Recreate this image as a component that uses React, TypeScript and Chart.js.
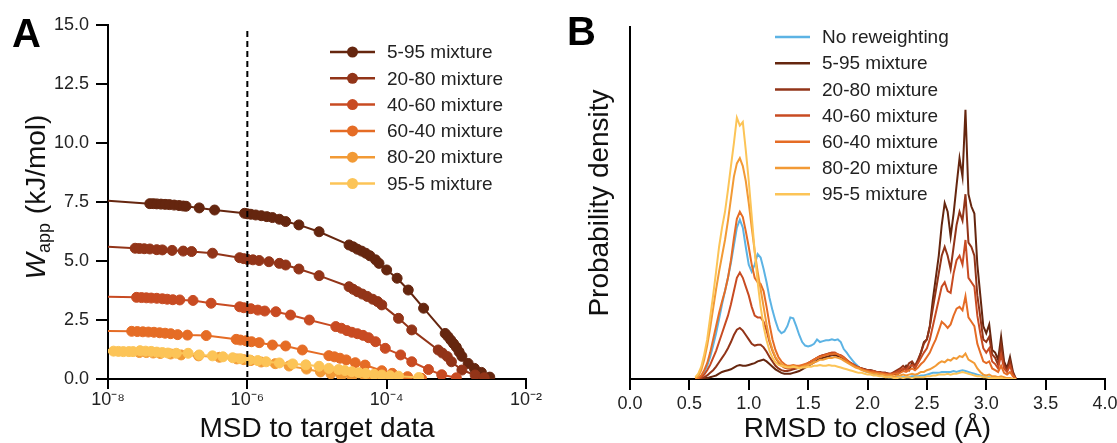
import React, { useEffect, useRef } from 'react';
import { Chart, registerables } from 'chart.js';

Chart.register(...registerables);

const FONT = '"Liberation Sans", Arial, Helvetica, sans-serif';
Chart.defaults.font.family = FONT;
Chart.defaults.color = '#222';

// ---------------- Panel A data ----------------
const mixtureLabels = ['5-95 mixture', '20-80 mixture', '40-60 mixture', '60-40 mixture', '80-20 mixture', '95-5 mixture'];
const mixtureColors = ['#65260f', '#923418', '#c84b22', '#e56c25', '#f29a35', '#fcc457'];
const msdTicks = [1e-8, 1e-6, 1e-4, 1e-2];
const msdTickLabels = ['10⁻⁸', '10⁻⁶', '10⁻⁴', '10⁻²'];
const targetMsd = 1e-6;

// log10(MSD) and W_app (kJ/mol) for each mixture
const logMsd5_95 = [-8.0, -7.40, -7.35, -7.30, -7.24, -7.18, -7.12, -7.05, -6.98, -6.92, -6.88, -6.69, -6.47, -6.04, -6.00, -5.95, -5.88, -5.80, -5.72, -5.64, -5.54, -5.45, -5.26, -4.97, -4.54, -4.48, -4.42, -4.36, -4.30, -4.24, -4.16, -4.11, -4.00, -3.85, -3.69, -3.47, -3.16, -3.12, -3.08, -3.04, -3.00, -2.96, -2.92, -2.83, -2.74, -2.64, -2.52];
const wapp5_95 = [7.55, 7.43, 7.43, 7.42, 7.41, 7.40, 7.39, 7.37, 7.35, 7.33, 7.32, 7.25, 7.16, 7.02, 7.00, 6.98, 6.95, 6.92, 6.88, 6.84, 6.77, 6.67, 6.53, 6.24, 5.68, 5.60, 5.50, 5.42, 5.33, 5.22, 5.05, 4.90, 4.62, 4.27, 3.77, 3.00, 1.93, 1.80, 1.65, 1.50, 1.35, 1.15, 0.96, 0.66, 0.45, 0.28, 0.08];

const logMsd20_80 = [-8.0, -7.61, -7.55, -7.48, -7.40, -7.30, -7.22, -7.08, -6.92, -6.80, -6.50, -6.11, -6.05, -6.00, -5.92, -5.83, -5.69, -5.54, -5.45, -5.26, -4.97, -4.54, -4.48, -4.42, -4.35, -4.28, -4.20, -4.13, -4.07, -3.83, -3.64, -3.26, -3.20, -3.13, -3.07, -2.92, -2.73, -2.60];
const wapp20_80 = [5.60, 5.54, 5.53, 5.52, 5.51, 5.48, 5.47, 5.45, 5.42, 5.40, 5.33, 5.14, 5.10, 5.07, 5.05, 5.02, 4.97, 4.90, 4.83, 4.66, 4.38, 3.91, 3.80, 3.70, 3.60, 3.50, 3.38, 3.28, 3.14, 2.57, 2.08, 1.23, 1.10, 0.95, 0.73, 0.38, 0.17, 0.05];

const logMsd40_60 = [-8.0, -7.59, -7.52, -7.45, -7.38, -7.30, -7.22, -7.15, -7.07, -6.97, -6.78, -6.52, -6.11, -6.05, -5.95, -5.85, -5.75, -5.59, -5.38, -5.11, -4.73, -4.65, -4.57, -4.50, -4.42, -4.34, -4.26, -4.16, -4.02, -3.80, -3.64, -3.40, -3.21, -3.00];
const wapp40_60 = [3.49, 3.46, 3.45, 3.44, 3.43, 3.42, 3.40, 3.38, 3.36, 3.35, 3.33, 3.21, 3.06, 3.02, 2.98, 2.92, 2.88, 2.85, 2.71, 2.50, 2.22, 2.15, 2.05, 1.98, 1.92, 1.85, 1.75, 1.58, 1.30, 1.02, 0.73, 0.40, 0.18, 0.05];

const logMsd60_40 = [-8.0, -7.66, -7.58, -7.50, -7.42, -7.34, -7.26, -7.18, -7.10, -7.00, -6.86, -6.59, -6.16, -6.10, -6.02, -5.94, -5.83, -5.64, -5.45, -5.21, -4.83, -4.75, -4.67, -4.58, -4.45, -4.31, -4.07, -3.92, -3.70, -3.50];
const wapp60_40 = [2.03, 2.02, 2.01, 2.00, 1.99, 1.98, 1.96, 1.94, 1.92, 1.88, 1.86, 1.84, 1.68, 1.65, 1.62, 1.58, 1.54, 1.44, 1.40, 1.23, 0.99, 0.94, 0.88, 0.81, 0.69, 0.59, 0.35, 0.24, 0.10, 0.03];

const logMsd80_20 = [-8.0, -7.55, -7.45, -7.35, -7.25, -7.10, -6.95, -6.70, -6.40, -6.15, -6.05, -5.95, -5.80, -5.60, -5.40, -5.15, -4.95, -4.80, -4.65, -4.50, -4.30, -4.00];
const wapp80_20 = [1.15, 1.12, 1.12, 1.10, 1.08, 1.06, 1.02, 0.98, 0.92, 0.85, 0.82, 0.78, 0.72, 0.65, 0.55, 0.42, 0.30, 0.22, 0.15, 0.10, 0.05, 0.02];

const logMsd95_5 = [-8.0, -7.92, -7.85, -7.78, -7.70, -7.64, -7.54, -7.46, -7.38, -7.30, -7.22, -7.14, -7.02, -6.85, -6.69, -6.50, -6.35, -6.21, -6.10, -5.97, -5.85, -5.73, -5.54, -5.35, -5.16, -4.97, -4.83, -4.69, -4.60, -4.50, -4.40, -4.30, -4.18, -4.07, -3.95, -3.83, -3.54];
const wapp95_5 = [1.23, 1.18, 1.17, 1.16, 1.16, 1.16, 1.20, 1.18, 1.17, 1.14, 1.12, 1.10, 1.09, 1.09, 1.02, 0.98, 0.94, 0.90, 0.86, 0.81, 0.78, 0.73, 0.68, 0.64, 0.60, 0.54, 0.45, 0.40, 0.36, 0.31, 0.27, 0.24, 0.20, 0.17, 0.14, 0.12, 0.06];

const seriesA = [
  [logMsd5_95, wapp5_95],
  [logMsd20_80, wapp20_80],
  [logMsd40_60, wapp40_60],
  [logMsd60_40, wapp60_40],
  [logMsd80_20, wapp80_20],
  [logMsd95_5, wapp95_5],
];

// ---------------- Panel B data ----------------
const rmsdLabels = ['No reweighting', '5-95 mixture', '20-80 mixture', '40-60 mixture', '60-40 mixture', '80-20 mixture', '95-5 mixture'];
const rmsdColors = ['#5cb3e4', '#65260f', '#923418', '#c84b22', '#e56c25', '#f29a35', '#fcc457'];
const rmsdTicks = [0, 0.5, 1.0, 1.5, 2.0, 2.5, 3.0, 3.5, 4.0];

const rmsd = [
  0.55, 0.575, 0.6, 0.625, 0.65, 0.675, 0.7, 0.725, 0.75, 0.775,
  0.8, 0.825, 0.85, 0.875, 0.9, 0.925, 0.95, 0.975, 1.0, 1.025,
  1.05, 1.075, 1.1, 1.125, 1.15, 1.175, 1.2, 1.225, 1.25, 1.275,
  1.3, 1.325, 1.35, 1.375, 1.4, 1.425, 1.45, 1.475, 1.5, 1.525,
  1.55, 1.575, 1.6, 1.625, 1.65, 1.675, 1.7, 1.725, 1.75, 1.775,
  1.8, 1.825, 1.85, 1.875, 1.9, 1.925, 1.95, 1.975, 2.0, 2.025,
  2.05, 2.075, 2.1, 2.125, 2.15, 2.175, 2.2, 2.225, 2.25, 2.275,
  2.3, 2.325, 2.35, 2.375, 2.4, 2.425, 2.45, 2.475, 2.5, 2.525,
  2.55, 2.575, 2.6, 2.625, 2.65, 2.675, 2.7, 2.725, 2.75, 2.775,
  2.8, 2.825, 2.85, 2.875, 2.9, 2.925, 2.95, 2.975, 3.0, 3.025,
  3.05, 3.075, 3.1, 3.125, 3.15, 3.175, 3.2, 3.225, 3.25,
];

const densNoReweight = [
  0.0, 0.01, 0.03, 0.08, 0.15, 0.25, 0.38, 0.52, 0.68, 0.85,
  1.0, 1.15, 1.32, 1.52, 1.72, 1.81, 1.72, 1.5, 1.3, 1.22,
  1.3, 1.42, 1.38, 1.25, 1.1, 0.92, 0.78, 0.66, 0.56, 0.52,
  0.54, 0.6, 0.7, 0.69, 0.6, 0.5, 0.42, 0.38, 0.37, 0.38,
  0.4, 0.45, 0.42, 0.43, 0.44, 0.44, 0.45, 0.44, 0.45, 0.42,
  0.34, 0.3, 0.25, 0.21, 0.17, 0.14, 0.11, 0.09, 0.08, 0.07,
  0.06, 0.05, 0.04, 0.03, 0.03, 0.02, 0.02, 0.02, 0.02, 0.02,
  0.02, 0.02, 0.02, 0.03, 0.03, 0.03, 0.04, 0.04, 0.05, 0.06,
  0.07, 0.07, 0.07, 0.08, 0.08, 0.08, 0.08, 0.09, 0.08, 0.09,
  0.1, 0.09, 0.08, 0.07, 0.06, 0.05, 0.04, 0.03, 0.02, 0.02,
  0.01, 0.01, 0.01, 0.0, 0.0, 0.0, 0.0, 0.0, 0.0,
];
const dens5_95 = [
  0.0, 0.0, 0.0, 0.01, 0.01, 0.02, 0.03, 0.04, 0.06, 0.08,
  0.09, 0.1, 0.11, 0.13, 0.15, 0.16, 0.15, 0.15, 0.16, 0.17,
  0.18, 0.2, 0.21, 0.22, 0.2, 0.17, 0.14, 0.11, 0.09, 0.07,
  0.06, 0.06, 0.06, 0.07, 0.08, 0.09, 0.11, 0.13, 0.15, 0.17,
  0.19, 0.21, 0.23, 0.24, 0.25, 0.26, 0.27, 0.27, 0.26, 0.25,
  0.23, 0.2, 0.18, 0.16, 0.14, 0.13, 0.12, 0.11, 0.1, 0.1,
  0.09, 0.08, 0.08, 0.07, 0.07, 0.06, 0.05, 0.06, 0.05, 0.08,
  0.1, 0.15, 0.1, 0.18, 0.12, 0.2, 0.3, 0.42, 0.45, 0.6,
  0.9, 1.15, 1.4, 1.75, 2.0, 1.9, 1.62, 1.88, 2.2, 2.51,
  2.3, 3.06, 2.1, 1.96, 1.88, 1.3, 0.95, 0.6, 0.52, 0.62,
  0.33, 0.3, 0.22, 0.48, 0.2, 0.12, 0.25, 0.08, 0.0,
];
const dens20_80 = [
  0.0, 0.0, 0.01, 0.02, 0.04, 0.07, 0.1, 0.14, 0.19, 0.24,
  0.29, 0.35, 0.42, 0.5, 0.56, 0.58, 0.55, 0.5, 0.45, 0.4,
  0.38, 0.39, 0.39, 0.36, 0.31, 0.25, 0.2, 0.15, 0.12, 0.1,
  0.09, 0.09, 0.1, 0.11, 0.12, 0.13, 0.14, 0.16, 0.18, 0.2,
  0.22, 0.24, 0.26, 0.27, 0.28, 0.29, 0.29, 0.29, 0.28, 0.26,
  0.24, 0.21, 0.19, 0.17, 0.15, 0.13, 0.12, 0.11, 0.1, 0.1,
  0.09, 0.08, 0.08, 0.07, 0.07, 0.06, 0.06, 0.08, 0.1, 0.12,
  0.15, 0.12, 0.18, 0.2, 0.15, 0.22, 0.3, 0.4, 0.45, 0.6,
  0.8, 1.0, 1.2, 1.4, 1.5, 1.4, 1.25, 1.5, 1.75, 1.9,
  1.8, 2.1, 1.55, 1.5, 1.4, 0.95, 0.7, 0.45, 0.42, 0.48,
  0.28, 0.24, 0.16, 0.38, 0.16, 0.1, 0.2, 0.06, 0.0,
];
const dens40_60 = [
  0.0, 0.01, 0.02, 0.05, 0.1, 0.16, 0.24, 0.32, 0.42, 0.52,
  0.62, 0.72, 0.85, 1.0, 1.15, 1.21, 1.15, 1.05, 0.95, 0.82,
  0.72, 0.7, 0.7, 0.65, 0.55, 0.42, 0.32, 0.24, 0.19, 0.15,
  0.13, 0.12, 0.12, 0.13, 0.13, 0.14, 0.15, 0.16, 0.18, 0.2,
  0.22, 0.24, 0.26, 0.27, 0.28, 0.29, 0.3, 0.3, 0.28, 0.27,
  0.25, 0.22, 0.19, 0.17, 0.15, 0.13, 0.12, 0.1, 0.1, 0.09,
  0.09, 0.08, 0.07, 0.07, 0.06, 0.06, 0.06, 0.07, 0.08, 0.1,
  0.12, 0.1, 0.14, 0.16, 0.13, 0.18, 0.24, 0.3, 0.35, 0.45,
  0.6, 0.75, 0.9, 1.05, 1.1, 1.0, 0.98, 1.2, 1.35, 1.4,
  1.3, 1.58, 1.15, 1.1, 1.05, 0.72, 0.52, 0.35, 0.3, 0.35,
  0.2, 0.17, 0.12, 0.28, 0.12, 0.08, 0.15, 0.05, 0.0,
];
const dens60_40 = [
  0.0, 0.01, 0.04, 0.1, 0.18, 0.3, 0.45, 0.6, 0.75, 0.88,
  1.0, 1.15, 1.35, 1.6, 1.82, 1.9, 1.84, 1.68, 1.5, 1.3,
  1.15, 1.1, 1.08, 1.0, 0.82, 0.62, 0.45, 0.33, 0.25, 0.2,
  0.17, 0.15, 0.15, 0.16, 0.15, 0.15, 0.16, 0.17, 0.18, 0.2,
  0.22, 0.24, 0.25, 0.26, 0.27, 0.28, 0.28, 0.29, 0.28, 0.26,
  0.24, 0.21, 0.18, 0.16, 0.14, 0.13, 0.11, 0.1, 0.09, 0.08,
  0.08, 0.07, 0.07, 0.06, 0.06, 0.05, 0.05, 0.06, 0.06, 0.07,
  0.09, 0.08, 0.1, 0.12, 0.1, 0.13, 0.17, 0.2, 0.25, 0.3,
  0.38, 0.45, 0.55, 0.65, 0.62, 0.58, 0.62, 0.72, 0.8, 0.82,
  0.78, 0.94, 0.7, 0.65, 0.6, 0.4, 0.3, 0.2, 0.18, 0.2,
  0.12, 0.1, 0.08, 0.15, 0.07, 0.05, 0.08, 0.03, 0.0,
];
const dens80_20 = [
  0.01, 0.03, 0.1, 0.22, 0.38, 0.58, 0.8, 1.02, 1.22, 1.4,
  1.58, 1.8, 2.05, 2.3, 2.45, 2.51, 2.42, 2.25, 2.0, 1.72,
  1.45, 1.22, 1.02, 0.82, 0.62, 0.45, 0.33, 0.25, 0.2, 0.17,
  0.15, 0.14, 0.14, 0.15, 0.14, 0.13, 0.14, 0.15, 0.16, 0.17,
  0.19, 0.2, 0.22, 0.22, 0.23, 0.24, 0.24, 0.25, 0.24, 0.23,
  0.21, 0.19, 0.17, 0.15, 0.13, 0.12, 0.1, 0.09, 0.08, 0.07,
  0.06, 0.06, 0.05, 0.05, 0.04, 0.04, 0.04, 0.03, 0.04, 0.04,
  0.05, 0.04, 0.05, 0.06, 0.05, 0.06, 0.08, 0.08, 0.1, 0.11,
  0.13, 0.15, 0.18, 0.2, 0.19, 0.22, 0.21, 0.24, 0.23, 0.26,
  0.25, 0.29, 0.22, 0.2, 0.18, 0.12, 0.08, 0.05, 0.04, 0.05,
  0.03, 0.03, 0.02, 0.03, 0.02, 0.01, 0.01, 0.0, 0.0,
];
const dens95_5 = [
  0.02, 0.06, 0.14, 0.28, 0.45, 0.7, 0.95, 1.22, 1.5, 1.72,
  1.9, 2.15, 2.42, 2.68, 2.97, 2.88, 2.92, 2.6, 2.25, 1.85,
  1.45, 1.1, 0.82, 0.6, 0.44, 0.32, 0.24, 0.19, 0.16, 0.15,
  0.14, 0.13, 0.13, 0.14, 0.13, 0.12, 0.13, 0.13, 0.14, 0.14,
  0.15, 0.15, 0.16, 0.15, 0.15, 0.16, 0.15, 0.15, 0.14, 0.13,
  0.12, 0.11, 0.1, 0.09, 0.08, 0.07, 0.07, 0.06, 0.05, 0.05,
  0.04, 0.04, 0.03, 0.03, 0.02, 0.02, 0.02, 0.01, 0.01, 0.02,
  0.01, 0.02, 0.02, 0.01, 0.02, 0.02, 0.02, 0.02, 0.03, 0.03,
  0.04, 0.04, 0.05, 0.05, 0.05, 0.06, 0.05, 0.06, 0.06, 0.07,
  0.08, 0.07, 0.06, 0.05, 0.04, 0.03, 0.03, 0.02, 0.02, 0.01,
  0.01, 0.01, 0.01, 0.01, 0.0, 0.0, 0.0, 0.0, 0.0,
];
const seriesB = [densNoReweight, dens5_95, dens20_80, dens40_60, dens60_40, dens80_20, dens95_5];

// ---------------- helpers ----------------
function drawPanelLabel(ctx: CanvasRenderingContext2D, text: string, x: number, y: number) {
  ctx.save();
  ctx.fillStyle = '#000';
  ctx.font = `bold 40px ${FONT}`;
  ctx.textBaseline = 'alphabetic';
  ctx.textAlign = 'left';
  ctx.fillText(text, x, y);
  ctx.restore();
}

function drawLegend(ctx: CanvasRenderingContext2D, datasets: any[], opts: { x0: number; x1: number; tx: number; y0: number; gap: number; marker: boolean }) {
  ctx.save();
  ctx.font = `19px ${FONT}`;
  ctx.textBaseline = 'middle';
  ctx.textAlign = 'left';
  datasets.forEach((ds, i) => {
    const y = opts.y0 + i * opts.gap;
    ctx.strokeStyle = ds.borderColor;
    ctx.lineWidth = 2.5;
    ctx.beginPath();
    ctx.moveTo(opts.x0, y);
    ctx.lineTo(opts.x1, y);
    ctx.stroke();
    if (opts.marker) {
      ctx.fillStyle = ds.borderColor;
      ctx.beginPath();
      ctx.arc((opts.x0 + opts.x1) / 2, y, 5.5, 0, Math.PI * 2);
      ctx.fill();
    }
    ctx.fillStyle = '#222';
    ctx.fillText(ds.label, opts.tx, y + 1);
  });
  ctx.restore();
}

const panelAPlugin = {
  id: 'panelA',
  afterDatasetsDraw(chart: any) {
    const { ctx, chartArea, scales } = chart;
    const x = scales.x.getPixelForValue(targetMsd);
    ctx.save();
    ctx.strokeStyle = '#000';
    ctx.lineWidth = 2;
    ctx.setLineDash([6, 4]);
    ctx.beginPath();
    ctx.moveTo(x, chartArea.top + 6);
    ctx.lineTo(x, chartArea.bottom);
    ctx.stroke();
    ctx.restore();
  },
  afterDraw(chart: any) {
    const { ctx, chartArea } = chart;
    drawLegend(ctx, chart.data.datasets, { x0: 330, x1: 375, tx: 387, y0: 52, gap: 26.3, marker: true });
    drawPanelLabel(ctx, 'A', 12, 47);
    // y title: W_app (kJ/mol), rotated
    ctx.save();
    const cx = 35;
    const cy = (chartArea.top + chartArea.bottom) / 2 - 5;
    ctx.translate(cx, cy);
    ctx.rotate(-Math.PI / 2);
    ctx.fillStyle = '#111';
    ctx.textBaseline = 'alphabetic';
    ctx.textAlign = 'left';
    const fMain = `28px ${FONT}`;
    const fItal = `italic 28px ${FONT}`;
    const fSub = `18px ${FONT}`;
    ctx.font = fItal; const wW = ctx.measureText('W').width;
    ctx.font = fSub; const wSub = ctx.measureText('app').width;
    ctx.font = fMain; const wRest = ctx.measureText(' (kJ/mol)').width;
    const total = wW + wSub + 1 + wRest;
    let x = -total / 2;
    const base = 10;
    ctx.font = fItal; ctx.fillText('W', x, base); x += wW;
    ctx.font = fSub; ctx.fillText('app', x, base + 5); x += wSub + 1;
    ctx.font = fMain; ctx.fillText(' (kJ/mol)', x, base);
    ctx.restore();
  },
};

const panelBPlugin = {
  id: 'panelB',
  afterDraw(chart: any) {
    const { ctx } = chart;
    drawLegend(ctx, chart.data.datasets, { x0: 215, x1: 250, tx: 262, y0: 37, gap: 26.2, marker: false });
    drawPanelLabel(ctx, 'B', 7, 45);
  },
};

const tickFont = { size: 18, family: FONT };

export default function App() {
  const refA = useRef<HTMLCanvasElement>(null);
  const refB = useRef<HTMLCanvasElement>(null);

  useEffect(() => {
    const nA = seriesA.length;
    const chartA = new Chart(refA.current as HTMLCanvasElement, {
      type: 'line',
      data: {
        datasets: seriesA.map(([lx, w], i) => ({
          label: mixtureLabels[i],
          data: lx.map((e, j) => ({ x: Math.pow(10, e), y: w[j] })),
          borderColor: mixtureColors[i],
          backgroundColor: mixtureColors[i],
          pointBackgroundColor: mixtureColors[i],
          pointBorderColor: mixtureColors[i],
          borderWidth: 2,
          pointRadius: (c: any) => (c.dataIndex === 0 ? 0 : 5),
          pointBorderWidth: 1,
          tension: 0,
          order: nA - 1 - i,
        })),
      },
      options: {
        animation: false,
        responsive: false,
        devicePixelRatio: 1,
        events: [],
        layout: { padding: { left: 0, top: 25, right: 34, bottom: 0 } },
        plugins: { legend: { display: false }, tooltip: { enabled: false } },
        scales: {
          x: {
            type: 'logarithmic',
            min: 1e-8,
            max: 1e-2,
            afterBuildTicks: (scale: any) => {
              scale.ticks = msdTicks.map((v) => ({ value: v }));
            },
            afterFit: (scale: any) => {
              scale.height = 64;
              scale.paddingLeft = 0;
              scale.paddingRight = 0;
            },
            ticks: {
              autoSkip: false,
              maxRotation: 0,
              padding: 0,
              font: tickFont,
              color: '#222',
              callback: (_v: any, i: number) => msdTickLabels[i],
            },
            grid: { display: true, drawOnChartArea: false, drawTicks: true, tickLength: 10, color: '#000', lineWidth: 2 },
            border: { display: true, color: '#000', width: 2 },
            title: { display: true, text: 'MSD to target data', font: { size: 28, lineHeight: 1, family: FONT }, color: '#111', padding: { top: 0, bottom: 0 } },
          },
          y: {
            type: 'linear',
            min: 0,
            max: 15,
            afterFit: (scale: any) => {
              scale.width = 108;
            },
            ticks: {
              stepSize: 2.5,
              padding: 7,
              font: tickFont,
              color: '#222',
              callback: (v: any) => Number(v).toFixed(1),
            },
            grid: { display: true, drawOnChartArea: false, drawTicks: true, tickLength: 12, color: '#000', lineWidth: 2 },
            border: { display: true, color: '#000', width: 2 },
          },
        },
      },
      plugins: [panelAPlugin],
    } as any);

    const nB = seriesB.length;
    const chartB = new Chart(refB.current as HTMLCanvasElement, {
      type: 'line',
      data: {
        datasets: seriesB.map((d, i) => ({
          label: rmsdLabels[i],
          data: rmsd.map((x, j) => ({ x, y: d[j] })),
          borderColor: rmsdColors[i],
          backgroundColor: rmsdColors[i],
          borderWidth: 2,
          pointRadius: 0,
          tension: 0,
          order: nB - 1 - i,
        })),
      },
      options: {
        animation: false,
        responsive: false,
        devicePixelRatio: 1,
        events: [],
        layout: { padding: { left: 0, top: 27, right: 12, bottom: 0 } },
        plugins: { legend: { display: false }, tooltip: { enabled: false } },
        scales: {
          x: {
            type: 'linear',
            min: 0,
            max: 4,
            afterBuildTicks: (scale: any) => {
              scale.ticks = rmsdTicks.map((v) => ({ value: v }));
            },
            afterFit: (scale: any) => {
              scale.height = 64;
              scale.paddingLeft = 0;
              scale.paddingRight = 0;
            },
            ticks: {
              autoSkip: false,
              maxRotation: 0,
              padding: 3,
              font: tickFont,
              color: '#222',
              callback: (v: any) => Number(v).toFixed(1),
            },
            grid: { display: true, drawOnChartArea: false, drawTicks: true, tickLength: 11, color: '#000', lineWidth: 2 },
            border: { display: true, color: '#000', width: 2 },
            title: { display: true, text: 'RMSD to closed (Å)', font: { size: 28, lineHeight: 1, family: FONT }, color: '#111', padding: { top: 0, bottom: 0 } },
          },
          y: {
            type: 'linear',
            min: 0,
            max: 4,
            afterFit: (scale: any) => {
              scale.width = 70;
              scale.paddingTop = 0;
              scale.paddingBottom = 0;
            },
            ticks: { display: false },
            grid: { display: true, drawOnChartArea: false, drawTicks: false, color: '#000', lineWidth: 2 },
            border: { display: true, color: '#000', width: 2 },
            title: { display: true, text: 'Probability density', font: { size: 28, lineHeight: 1, family: FONT }, color: '#111', padding: { top: 26, bottom: 0 } },
          },
        },
      },
      plugins: [panelBPlugin],
    } as any);

    return () => {
      chartA.destroy();
      chartB.destroy();
    };
  }, []);

  return (
    <div style={{ position: 'fixed', left: 0, top: 0, width: 1117, height: 443, background: '#fff', overflow: 'hidden' }}>
      <canvas ref={refA} width={560} height={443} style={{ position: 'absolute', left: 0, top: 0, width: 560, height: 443 }} />
      <canvas ref={refB} width={557} height={443} style={{ position: 'absolute', left: 560, top: 0, width: 557, height: 443 }} />
    </div>
  );
}
